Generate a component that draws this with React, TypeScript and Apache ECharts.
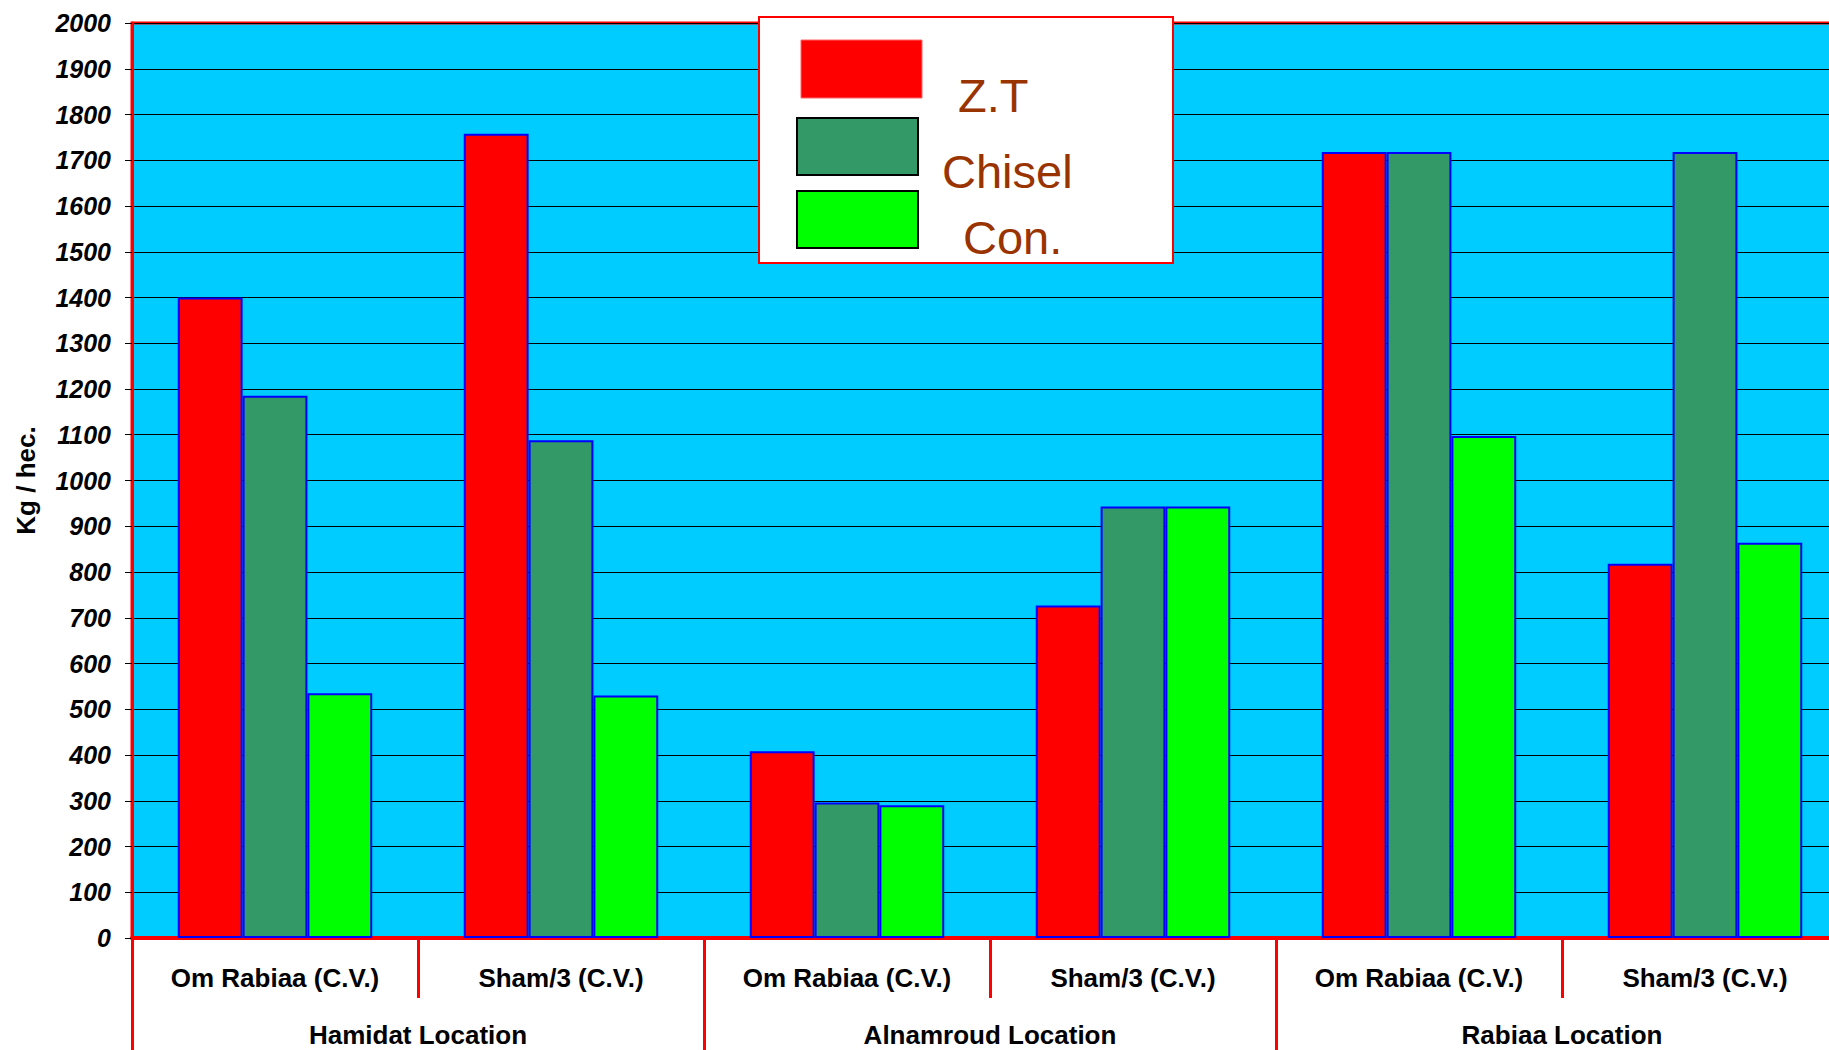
import React, { useEffect, useRef } from "react";
import * as echarts from "echarts";

// Varieties (inner category axis) and locations (outer grouping axis)
const varieties = [
  "Om Rabiaa (C.V.)",
  "Sham/3 (C.V.)",
  "Om Rabiaa (C.V.)",
  "Sham/3 (C.V.)",
  "Om Rabiaa (C.V.)",
  "Sham/3 (C.V.)",
];
const locations = ["Hamidat Location", "Alnamroud Location", "Rabiaa Location"];

// Yield (Kg / hec.) per tillage treatment
const seriesNames = ["Z.T", "Chisel", "Con."];
const zeroTillage = [1400, 1758, 408, 727, 1718, 818];
const chisel = [1185, 1088, 296, 943, 1718, 1718];
const conventional = [535, 530, 290, 943, 1097, 864];
const seriesColors = ["#ff0000", "#339966", "#00ff00"];

const yTicks = { min: 0, max: 2000, interval: 100 };

const FONT = '"Liberation Sans", Arial, sans-serif';

export default function App() {
  const ref = useRef<HTMLDivElement>(null);

  useEffect(() => {
    if (!ref.current) return;
    const chart = echarts.init(ref.current, undefined, { renderer: "svg" });
    const values = [zeroTillage, chisel, conventional];

    // Legend box drawn as graphics (swatches + labels)
    const swatches = [
      { x: 801, y: 40, w: 121, h: 58, stroke: "#ff6666", lw: 1 },
      { x: 797, y: 118, w: 121, h: 57, stroke: "#000000", lw: 2 },
      { x: 797, y: 191, w: 121, h: 57, stroke: "#000000", lw: 2 },
    ];
    const labelPos = [
      { x: 958, y: 95 },
      { x: 942, y: 171 },
      { x: 963, y: 237 },
    ];
    const legendGraphics: any[] = [
      {
        type: "rect",
        z: 100,
        shape: { x: 759, y: 17, width: 414, height: 246 },
        style: { fill: "#ffffff", stroke: "#ff0000", lineWidth: 2 },
      },
    ];
    seriesNames.forEach((name, i) => {
      const s = swatches[i];
      legendGraphics.push({
        type: "rect",
        z: 101,
        shape: { x: s.x, y: s.y, width: s.w, height: s.h },
        style: { fill: seriesColors[i], stroke: s.stroke, lineWidth: s.lw },
      });
      legendGraphics.push({
        type: "text",
        z: 101,
        x: labelPos[i].x,
        y: labelPos[i].y,
        style: {
          text: name,
          fill: "#993300",
          font: `normal 47px ${FONT}`,
          align: "left",
          verticalAlign: "middle",
        },
      });
    });

    chart.setOption({
      animation: false,
      backgroundColor: "#ffffff",
      grid: {
        left: 132,
        top: 23,
        width: 1716,
        height: 915,
        show: true,
        backgroundColor: "#00ccff",
        borderColor: "#ff0000",
        borderWidth: 3,
        containLabel: false,
        outerBoundsMode: "none",
      },
      xAxis: [
        {
          type: "category",
          data: varieties,
          position: "bottom",
          axisLine: { show: true, lineStyle: { color: "#ff0000", width: 4 } },
          axisTick: {
            show: true,
            length: 60,
            lineStyle: { color: "#ff0000", width: 3 },
          },
          axisLabel: {
            interval: 0,
            margin: 27,
            color: "#000000",
            fontFamily: FONT,
            fontWeight: "bold",
            fontSize: 26,
          },
          splitLine: { show: false },
        },
        {
          type: "category",
          data: locations,
          position: "bottom",
          axisLine: { show: false },
          axisTick: {
            show: true,
            length: 115,
            lineStyle: { color: "#ff0000", width: 3 },
          },
          axisLabel: {
            interval: 0,
            margin: 84,
            color: "#000000",
            fontFamily: FONT,
            fontWeight: "bold",
            fontSize: 26,
          },
          splitLine: { show: false },
        },
      ],
      yAxis: {
        type: "value",
        min: yTicks.min,
        max: yTicks.max,
        interval: yTicks.interval,
        name: "Kg / hec.",
        nameLocation: "middle",
        nameRotate: 90,
        nameGap: 93,
        nameTextStyle: {
          color: "#000000",
          fontFamily: FONT,
          fontWeight: "bold",
          fontSize: 26,
        },
        axisLine: { show: true, lineStyle: { color: "#ff0000", width: 3 } },
        axisTick: {
          show: true,
          length: 7,
          lineStyle: { color: "#000000", width: 1 },
        },
        axisLabel: {
          margin: 21,
          color: "#000000",
          fontFamily: FONT,
          fontWeight: "bold",
          fontStyle: "italic",
          fontSize: 25,
          formatter: (v: number) => String(v),
        },
        splitLine: { show: true, lineStyle: { color: "#000000", width: 1 } },
      },
      series: seriesNames.map((name, i) => ({
        name,
        type: "bar",
        xAxisIndex: 0,
        data: values[i],
        barGap: "0%",
        barCategoryGap: "32%",
        itemStyle: {
          color: seriesColors[i],
          borderColor: "#0000ff",
          borderWidth: 2,
        },
      })),
      graphic: legendGraphics,
    });

    return () => chart.dispose();
  }, []);

  return (
    <div
      ref={ref}
      style={{
        position: "fixed",
        left: 0,
        top: 0,
        width: 1829,
        height: 1050,
        background: "#ffffff",
      }}
    />
  );
}
